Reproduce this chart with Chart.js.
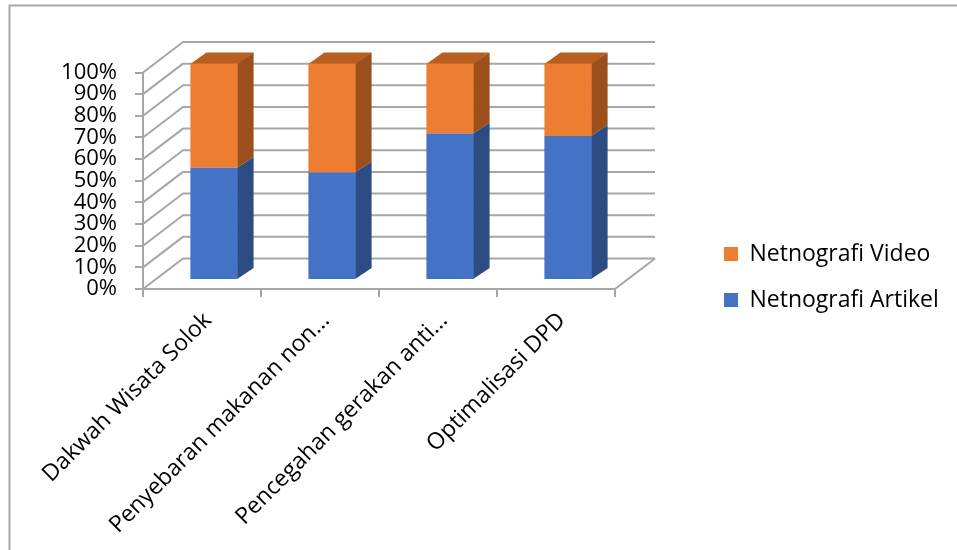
<!DOCTYPE html>
<html>
<head>
<meta charset="utf-8">
<script src="https://cdn.jsdelivr.net/npm/chart.js@4/dist/chart.umd.min.js"></script>
<style>
  html, body { margin: 0; padding: 0; background: #ffffff; }
  #wrap { width: 957px; height: 550px; position: relative; }
</style>
</head>
<body>
<div id="wrap"><canvas id="c" width="957" height="550"></canvas></div>
<script>
// ---- data ----
const categories = [
  'Dakwah Wisata Solok',
  'Penyebaran makanan non...',
  'Pencegahan gerakan anti...',
  'Optimalisasi DPD'
];
const netnografiArtikel = [51.8, 49.7, 67.7, 66.5];
const netnografiVideo = [48.2, 50.3, 32.3, 33.5];
const seriesNames = ['Netnografi Artikel', 'Netnografi Video'];
const yTickStep = 10;
const yMin = 0;
const yMax = 100;

// ---- styles ----
const FONT = '"Open Sans", Lato, sans-serif';
const GRID = '#a6a6a6';
const FRONT_COLORS = ['#4472C4', '#ED7D31'];
const SIDE_COLORS = ['#2C4C83', '#9C4F1D'];
const TOP_COLORS = ['#3A62A8', '#B65F20'];

const WALL = { dx: 40, dy: -30.5 };   // depth of the floor / back wall
const SHIFT = { dx: 12, dy: -9 };     // depth position of the bars' front faces
const BAR = { dx: 16, dy: -11 };      // depth of each bar

Chart.defaults.font.family = FONT;
Chart.defaults.color = '#000000';

const threeD = {
  id: 'threeD',
  beforeDraw(chart) {
    const ctx = chart.ctx;
    ctx.save();
    ctx.fillStyle = '#ffffff';
    ctx.fillRect(0, 0, chart.width, chart.height);
    ctx.strokeStyle = '#a6a6a6';
    ctx.lineWidth = 2;
    ctx.beginPath();
    ctx.moveTo(9.5, chart.height);
    ctx.lineTo(9.5, 5.5);
    ctx.lineTo(chart.width, 5.5);
    ctx.stroke();
    ctx.restore();
  },
  beforeDatasetsDraw(chart) {
    const ctx = chart.ctx;
    const ys = chart.scales.y;
    const xs = chart.scales.x;
    const L = xs.left, R = xs.right;
    ctx.save();
    ctx.strokeStyle = GRID;
    ctx.lineWidth = 2;
    ctx.lineJoin = 'round';
    ys.ticks.forEach(t => {
      const y = ys.getPixelForValue(t.value);
      ctx.beginPath();
      ctx.moveTo(L, y);
      ctx.lineTo(L + WALL.dx, y + WALL.dy);
      ctx.lineTo(R + WALL.dx, y + WALL.dy);
      ctx.stroke();
    });
    const y0 = ys.getPixelForValue(yMin);
    ctx.beginPath();
    ctx.moveTo(R, y0);
    ctx.lineTo(R + WALL.dx, y0 + WALL.dy);
    ctx.stroke();
    ctx.restore();

    ctx.save();
    ctx.translate(SHIFT.dx, SHIFT.dy);
    const n = chart.data.datasets.length;
    chart.data.datasets.forEach((ds, i) => {
      const meta = chart.getDatasetMeta(i);
      meta.data.forEach(el => {
        const p = el.getProps(['x', 'y', 'base', 'width'], true);
        const x0 = p.x - p.width / 2, x1 = p.x + p.width / 2;
        const top = Math.min(p.y, p.base), bot = Math.max(p.y, p.base);
        ctx.fillStyle = SIDE_COLORS[i];
        ctx.beginPath();
        ctx.moveTo(x1 - 0.5, top);
        ctx.lineTo(x1 + BAR.dx, top + BAR.dy);
        ctx.lineTo(x1 + BAR.dx, bot + BAR.dy);
        ctx.lineTo(x1 - 0.5, bot);
        ctx.closePath();
        ctx.fill();
        if (i === n - 1) {
          ctx.fillStyle = TOP_COLORS[i];
          ctx.beginPath();
          ctx.moveTo(x0, top + 0.5);
          ctx.lineTo(x1, top + 0.5);
          ctx.lineTo(x1 + BAR.dx, top + BAR.dy);
          ctx.lineTo(x0 + BAR.dx, top + BAR.dy);
          ctx.closePath();
          ctx.fill();
        }
      });
    });
  },
  afterDatasetsDraw(chart) {
    chart.ctx.restore();
  }
};

new Chart(document.getElementById('c'), {
  type: 'bar',
  plugins: [threeD],
  data: {
    labels: categories,
    datasets: [
      { label: seriesNames[0], data: netnografiArtikel, backgroundColor: FRONT_COLORS[0], borderWidth: 0, clip: false },
      { label: seriesNames[1], data: netnografiVideo, backgroundColor: FRONT_COLORS[1], borderWidth: 0, clip: false }
    ]
  },
  options: {
    responsive: false,
    animation: false,
    events: [],
    barPercentage: 0.4,
    categoryPercentage: 1.0,
    layout: { padding: { left: 0, top: 4, right: 14, bottom: 0 } },
    plugins: {
      tooltip: { enabled: false },
      legend: {
        position: 'right',
        reverse: true,
        maxWidth: 242,
        labels: {
          boxWidth: 14,
          boxHeight: 14,
          padding: 23,
          font: { size: 23, family: FONT },
          color: '#000000'
        }
      }
    },
    scales: {
      x: {
        stacked: true,
        grid: { display: true, drawOnChartArea: false, drawTicks: true, tickLength: 8, color: GRID, lineWidth: 2, offset: true },
        border: { display: true, color: GRID, width: 2 },
        ticks: {
          autoSkip: false, minRotation: 45, maxRotation: 45,
          labelOffset: 6, padding: 10,
          font: { size: 23, family: FONT }, color: '#000000'
        },
        afterFit(s) { s.height = 261; }
      },
      topGap: {
        type: 'linear',
        position: 'top',
        display: true,
        grid: { display: false },
        border: { display: false },
        ticks: { display: false },
        afterFit(s) { s.height = 68.5; }
      },
      y: {
        stacked: true,
        min: yMin, max: yMax,
        grid: { display: true, drawOnChartArea: false, drawTicks: true, tickLength: 8, color: GRID, lineWidth: 2 },
        border: { display: true, color: GRID, width: 2 },
        ticks: {
          stepSize: yTickStep, autoSkip: false, padding: 18,
          font: { size: 22, family: FONT, lineHeight: 0.9 }, color: '#000000',
          callback: v => v + '%'
        },
        afterFit(s) { s.width = 143; }
      },
      gap: {
        type: 'linear',
        position: 'right',
        display: true,
        grid: { display: false },
        border: { display: false },
        ticks: { display: false },
        afterFit(s) { s.width = 86; }
      }
    }
  }
});
</script>
</body>
</html>
